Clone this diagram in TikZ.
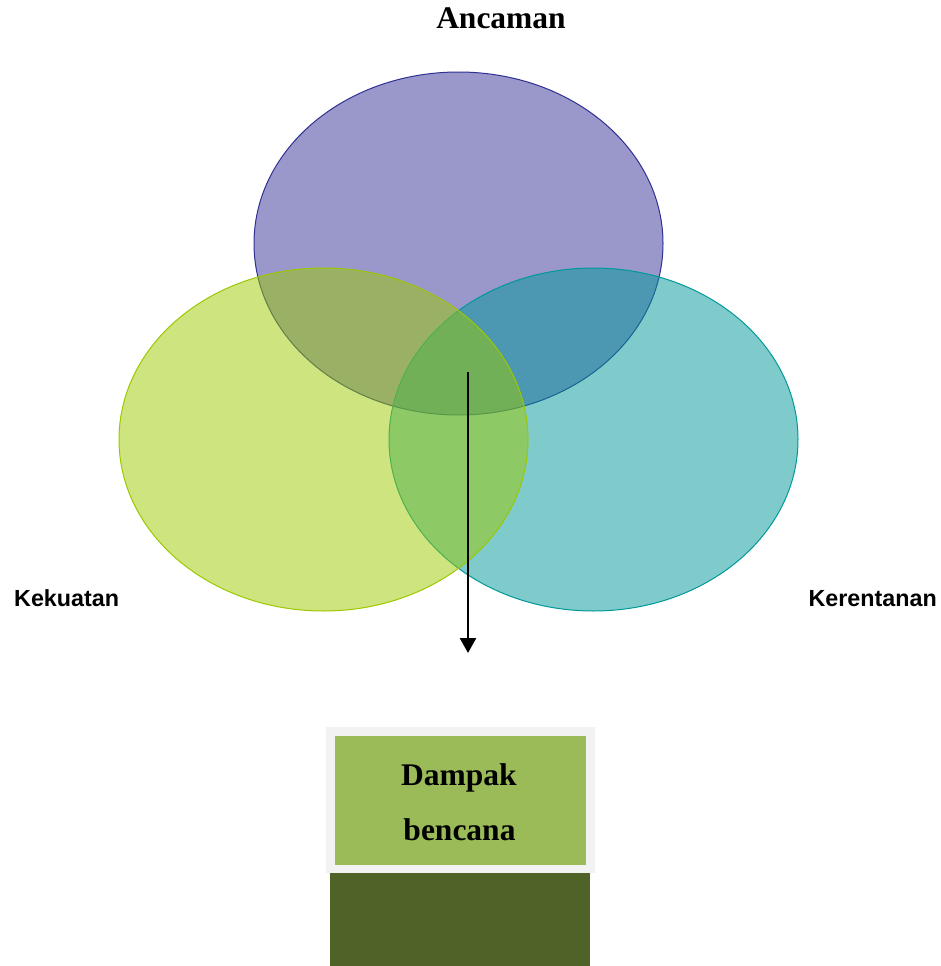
\documentclass[tikz,border=0pt]{standalone}
\usepackage{fontspec}
\setmainfont{Liberation Serif}
\setsansfont{Liberation Sans}
\usetikzlibrary{arrows.meta}
\definecolor{purpleF}{RGB}{53,49,151}
\definecolor{purpleD}{RGB}{46,49,146}
\definecolor{greenF}{RGB}{155,201,0}
\definecolor{greenD}{RGB}{155,200,0}
\definecolor{tealF}{RGB}{0,151,151}
\definecolor{tealD}{RGB}{0,153,153}
\definecolor{boxframe}{RGB}{242,242,242}
\definecolor{boxgreen}{RGB}{155,187,89}
\definecolor{boxdark}{RGB}{79,98,40}
\tikzset{
  venn/.style={fill opacity=0.5, line width=1pt},
  serifbig/.style={font=\fontsize{31.5}{36}\selectfont\bfseries, anchor=base, inner sep=0pt},
  sanslabel/.style={font=\fontsize{23.3}{27}\selectfont\sffamily\bfseries, anchor=base, inner sep=0pt},
}
\begin{document}
\begin{tikzpicture}[x=1pt,y=-1pt]
\useasboundingbox (0,0) rectangle (941,966);
% ellipses
\draw[venn, fill=purpleF, draw=purpleD] (458.5,243.5) ellipse [x radius=204.5, y radius=171.5];
\draw[venn, fill=tealF, draw=tealD] (593.5,439.5) ellipse [x radius=204.5, y radius=171.5];
\draw[venn, fill=greenF, draw=greenD] (323.5,439.5) ellipse [x radius=204.5, y radius=171.5];
% labels
\node[serifbig] (anc) at (501,29) {Ancaman};
\node[sanslabel, anchor=base west] (kek) at (14,606) {Kekuatan};
\node[sanslabel, anchor=base east] (ker) at (937,606) {Kerentanan};
% arrow
\coordinate (astart) at (468,372);
\coordinate (aend) at (468,653);
\draw[line width=2.6pt, -{Triangle[width=16pt,length=15pt]}] (astart) -- (aend);
% boxes
\fill[boxdark] (330,873) rectangle (590,966);
\fill[boxframe] (326,727) rectangle (595,873);
\fill[boxgreen] (335,736) rectangle (586,865);
\node[serifbig] (d1) at (459,785) {Dampak};
\node[serifbig] (d2) at (459.5,840) {bencana};
\end{tikzpicture}
\end{document}
